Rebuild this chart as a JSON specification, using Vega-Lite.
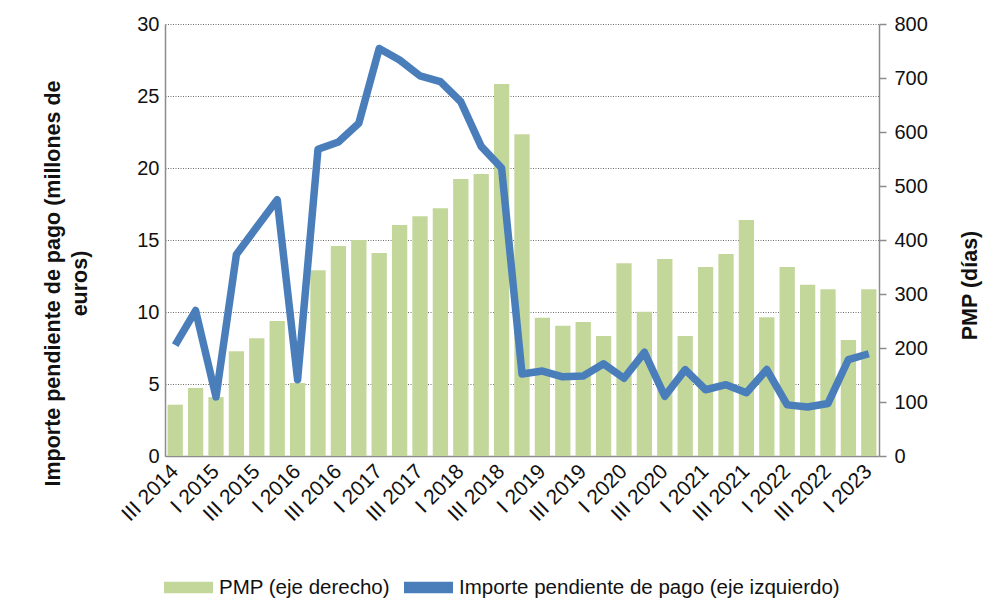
{
  "$schema": "https://vega.github.io/schema/vega-lite/v6.json",
  "autosize": {"type": "none"},
  "width": 714,
  "height": 432,
  "padding": {"left": 165, "top": 24, "right": 122, "bottom": 150},
  "background": "white",
  "config": {
    "font": "Liberation Sans",
    "view": {"stroke": null},
    "axis": {
      "labelColor": "#111111",
      "titleColor": "#111111",
      "labelFontSize": 20,
      "titleFontSize": 21.5,
      "titleFontWeight": "bold",
      "domainColor": "#8c8c8c",
      "domainWidth": 1.5,
      "tickColor": "#8c8c8c",
      "tickWidth": 1.5
    }
  },
  "data": {
    "values": [
      {"q": "III 2014", "pmp": 95, "importe": 7.7},
      {"q": "IV 2014", "pmp": 126, "importe": 10.1},
      {"q": "I 2015", "pmp": 109, "importe": 4.1},
      {"q": "II 2015", "pmp": 194, "importe": 14.0},
      {"q": "III 2015", "pmp": 218, "importe": 15.9},
      {"q": "IV 2015", "pmp": 250, "importe": 17.8},
      {"q": "I 2016", "pmp": 135, "importe": 5.3},
      {"q": "II 2016", "pmp": 344, "importe": 21.3},
      {"q": "III 2016", "pmp": 389, "importe": 21.8},
      {"q": "IV 2016", "pmp": 400, "importe": 23.1},
      {"q": "I 2017", "pmp": 376, "importe": 28.3},
      {"q": "II 2017", "pmp": 428, "importe": 27.5},
      {"q": "III 2017", "pmp": 444, "importe": 26.4},
      {"q": "IV 2017", "pmp": 459, "importe": 26.0},
      {"q": "I 2018", "pmp": 513, "importe": 24.6},
      {"q": "II 2018", "pmp": 522, "importe": 21.5},
      {"q": "III 2018", "pmp": 689, "importe": 20.0},
      {"q": "IV 2018", "pmp": 596, "importe": 5.7},
      {"q": "I 2019", "pmp": 256, "importe": 5.9},
      {"q": "II 2019", "pmp": 241, "importe": 5.5},
      {"q": "III 2019", "pmp": 248, "importe": 5.55},
      {"q": "IV 2019", "pmp": 222, "importe": 6.4},
      {"q": "I 2020", "pmp": 357, "importe": 5.4},
      {"q": "II 2020", "pmp": 267, "importe": 7.2},
      {"q": "III 2020", "pmp": 365, "importe": 4.15},
      {"q": "IV 2020", "pmp": 222, "importe": 6.0},
      {"q": "I 2021", "pmp": 350, "importe": 4.6},
      {"q": "II 2021", "pmp": 374, "importe": 4.95},
      {"q": "III 2021", "pmp": 437, "importe": 4.4},
      {"q": "IV 2021", "pmp": 257, "importe": 6.0},
      {"q": "I 2022", "pmp": 350, "importe": 3.55},
      {"q": "II 2022", "pmp": 317, "importe": 3.4},
      {"q": "III 2022", "pmp": 309, "importe": 3.65},
      {"q": "IV 2022", "pmp": 215, "importe": 6.7},
      {"q": "I 2023", "pmp": 309, "importe": 7.1}
    ]
  },
  "encoding": {
    "x": {
      "field": "q",
      "type": "nominal",
      "sort": null,
      "scale": {"paddingInner": 0.25, "paddingOuter": 0.125},
      "axis": {
        "title": null,
        "values": ["III 2014", "I 2015", "III 2015", "I 2016", "III 2016", "I 2017", "III 2017", "I 2018", "III 2018", "I 2019", "III 2019", "I 2020", "III 2020", "I 2021", "III 2021", "I 2022", "III 2022", "I 2023"],
        "labelAngle": -45,
        "labelAlign": "right",
        "labelBaseline": "middle",
        "labelPadding": 12,
        "labelFontSize": 21,
        "ticks": false,
        "grid": false
      }
    }
  },
  "layer": [
    {
      "mark": {"type": "bar", "color": "#C4D79B"},
      "encoding": {
        "y": {
          "field": "pmp",
          "type": "quantitative",
          "scale": {"domain": [0, 800], "nice": false},
          "axis": {
            "orient": "right",
            "title": "PMP (días)",
            "values": [0, 100, 200, 300, 400, 500, 600, 700, 800],
            "grid": false,
            "tickSize": 7,
            "labelPadding": 8,
            "titleAngle": -90,
            "titleX": 91,
            "titleY": 261,
            "titleAlign": "center",
            "titleBaseline": "middle"
          }
        },
        "color": {
          "datum": "PMP (eje derecho)",
          "scale": {
            "domain": ["PMP (eje derecho)", "Importe pendiente de pago (eje izquierdo)"],
            "range": ["#C4D79B", "#4A7EBB"]
          },
          "legend": {
            "orient": "none",
            "legendX": -1,
            "legendY": 539,
            "direction": "horizontal",
            "title": null,
            "labelFontSize": 20.5,
            "labelColor": "#111111",
            "labelLimit": 600,
            "labelOffset": 6,
            "columnPadding": 14,
            "symbolSize": 2401,
            "symbolType": "M-1,-0.23H1V0.23H-1Z",
            "symbolStrokeWidth": 0,
            "symbolOpacity": 1
          }
        }
      }
    },
    {
      "mark": {"type": "line", "color": "#4A7EBB", "strokeWidth": 7.5, "strokeJoin": "round", "strokeCap": "butt"},
      "encoding": {
        "y": {
          "field": "importe",
          "type": "quantitative",
          "scale": {"domain": [0, 30], "nice": false},
          "axis": {
            "orient": "left",
            "title": ["Importe pendiente de pago (millones de", "euros)"],
            "values": [0, 5, 10, 15, 20, 25, 30],
            "grid": true,
            "gridColor": "#6e6e6e",
            "gridDash": [1, 1.5],
            "gridWidth": 1,
            "ticks": false,
            "labelPadding": 6,
            "titleAngle": -90,
            "titleX": -112,
            "titleY": 259,
            "titleAlign": "center",
            "titleBaseline": "middle",
            "titleLineHeight": 27
          }
        }
      }
    }
  ],
  "resolve": {"scale": {"y": "independent"}}
}
